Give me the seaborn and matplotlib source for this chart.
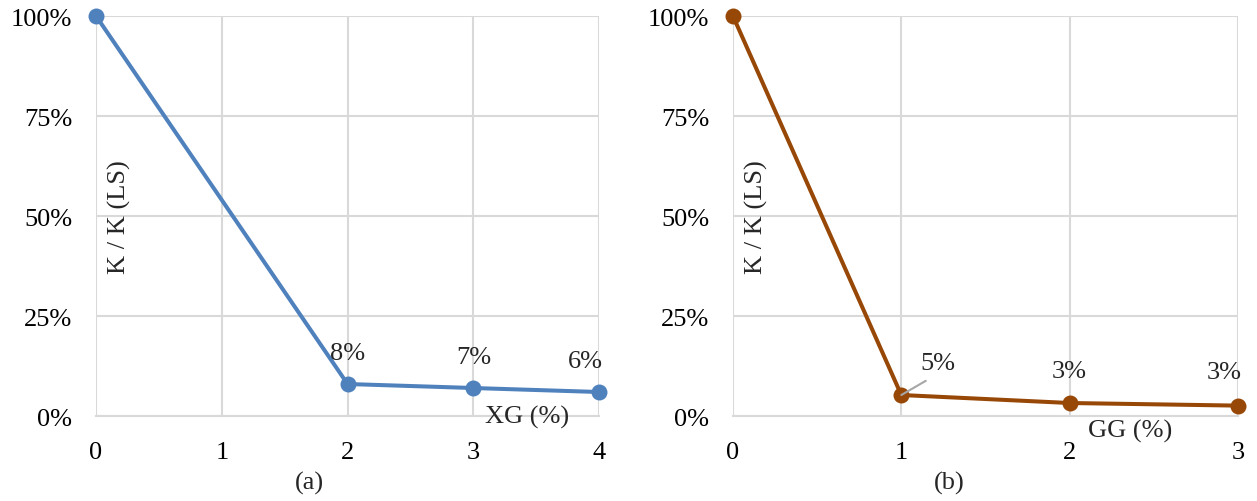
import matplotlib
matplotlib.use("Agg")
import matplotlib.pyplot as plt
import seaborn as sns
import pandas as pd
from matplotlib.ticker import PercentFormatter

# Relative permeability K / K(LS) versus additive content
xg_content = [0, 2, 3, 4]
xg_ratio = [100, 8, 7, 6]
gg_content = [0, 1, 2, 3]
gg_ratio = [100, 5.25, 3.25, 2.6]

blue = "#4F81BD"
brown = "#974706"
grid = "#D9D9D9"
FS = 19

sns.set_style("white")
plt.rcParams["font.family"] = ["Liberation Serif", "DejaVu Serif"]
plt.rcParams["font.size"] = FS

fig = plt.figure(figsize=(12.57, 5.02), dpi=100)
ax_a = fig.add_axes([0.0764, 0.1693, 0.4002, 0.7968])
ax_b = fig.add_axes([0.5831, 0.1693, 0.4018, 0.7968])


def panel(ax, x, y, color, xlabel, caption, caption_x, label_offsets,
          xlabel_pos, ylabel_x):
    df = pd.DataFrame({"x": x, "y": y})
    sns.lineplot(data=df, x="x", y="y", ax=ax, color=color, lw=2.9,
                 marker="o", markersize=11.5, markeredgewidth=0,
                 clip_on=False, zorder=5)
    ax.set_xlim(min(x), max(x))
    ax.set_ylim(0, 100)
    ax.set_xticks(range(min(x), max(x) + 1))
    ax.set_yticks([0, 25, 50, 75, 100])
    ax.yaxis.set_major_formatter(PercentFormatter(decimals=0))
    ax.grid(True, color=grid, lw=1.5)
    ax.set_axisbelow(True)
    for s in ["top", "right", "left"]:
        ax.spines[s].set_visible(False)
    ax.spines["bottom"].set_color(grid)
    ax.spines["bottom"].set_linewidth(1.5)
    ax.tick_params(axis="both", length=0, labelsize=FS, colors="black")
    ax.tick_params(axis="y", pad=17)
    ax.tick_params(axis="x", pad=18)
    ax.set_xlabel("")
    ax.set_ylabel("")
    # data labels
    for xi, yi, off in zip(x[1:], y[1:], label_offsets):
        dx, dy, leader = off
        arrow = None
        if leader:
            arrow = dict(arrowstyle="-", color="#A6A6A6", lw=1.5,
                         relpos=(0.5, 0.0), shrinkA=5, shrinkB=0)
        ax.annotate(f"{round(yi):d}%", xy=(xi, yi), xytext=(dx, dy),
                    textcoords="offset points", ha="center", va="center",
                    fontsize=FS, zorder=6, arrowprops=arrow)
    # axis titles placed inside the plot area
    ax.text(xlabel_pos[0], xlabel_pos[1], xlabel, transform=ax.transAxes,
            ha="center", va="center", fontsize=FS)
    ax.text(ylabel_x, 0.50, "K / K (LS)", transform=ax.transAxes, rotation=90,
            ha="center", va="center", fontsize=FS)
    ax.text(caption_x, -0.165, caption, transform=ax.transAxes,
            ha="center", va="center", fontsize=FS)


panel(ax_a, xg_content, xg_ratio, blue, "XG (%)", "(a)", 0.425,
      [(0, 22, False), (0, 22, False), (-10, 22, False)],
      (0.857, -0.002), 0.047)
panel(ax_b, gg_content, gg_ratio, brown, "GG (%)", "(b)", 0.428,
      [(26, 23, True), (0, 23, False), (-10, 24, False)],
      (0.786, -0.035), 0.047)

fig.savefig("out.png", dpi=100, facecolor="white")
